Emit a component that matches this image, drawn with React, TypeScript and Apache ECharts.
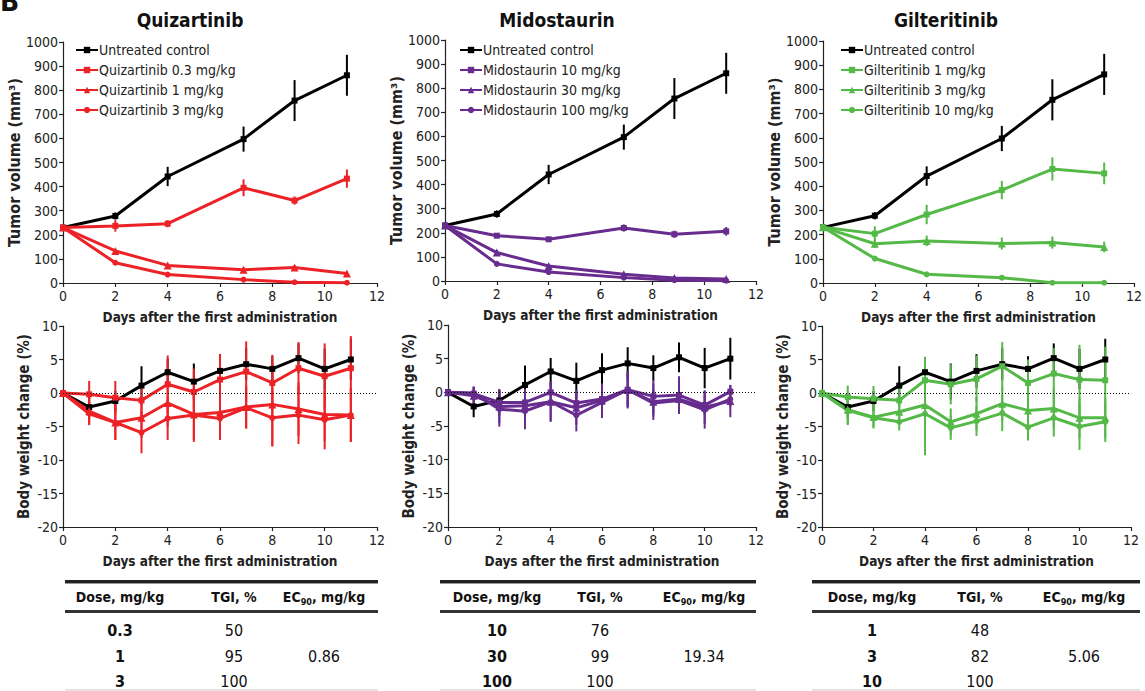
import React, { useEffect, useRef } from "react";
import * as echarts from "echarts";

const FONT = "'Liberation Sans Narrow', 'DejaVu Sans Condensed', 'Arial Narrow', sans-serif";

// ---------- data ----------
const tumorDays = [0, 2, 4, 6.9, 8.85, 10.85];
const weightDays = [0, 1, 2, 3, 4, 5, 6, 7, 8, 9, 10, 11];

const tumorControl = [230, 278, 442, 597, 757, 862];
const tumorControlErr = [8, 15, 40, 52, 85, 85];

const tumorQuiz03 = [230, 237, 246, 395, 342, 433];
const tumorQuiz03Err = [8, 24, 15, 35, 17, 38];
const tumorQuiz1 = [230, 133, 73, 55, 64, 39];
const tumorQuiz1Err = [5, 8, 8, 10, 10, 8];
const tumorQuiz3 = [230, 84, 35, 14, 3, 1];
const tumorQuiz3Err = [5, 8, 6, 4, 2, 1];

const tumorMido10 = [230, 188, 173, 220, 194, 206];
const tumorMido10Err = [8, 10, 10, 15, 15, 18];
const tumorMido30 = [230, 118, 62, 28, 12, 8];
const tumorMido30Err = [5, 10, 8, 6, 5, 4];
const tumorMido100 = [230, 71, 37, 14, 3, 1];
const tumorMido100Err = [5, 6, 5, 4, 2, 1];

const tumorGilt1 = [230, 204, 283, 384, 471, 453];
const tumorGilt1Err = [8, 30, 40, 38, 48, 45];
const tumorGilt3 = [230, 162, 174, 163, 167, 149];
const tumorGilt3Err = [5, 18, 22, 25, 25, 22];
const tumorGilt10 = [230, 101, 36, 22, 1, 1];
const tumorGilt10Err = [5, 8, 5, 4, 1, 1];

const weightControl = [0, -2.1, -1.2, 1.1, 3.1, 1.7, 3.3, 4.3, 3.6, 5.2, 3.6, 5.0];
const weightControlErr = [0, 1.6, 1.5, 2.9, 2.0, 2.7, 2.5, 2.4, 1.9, 2.2, 3.0, 3.1];

const weightQuiz03 = [0, -0.2, -0.7, -1.1, 1.3, 0.15, 2.0, 3.2, 1.5, 3.7, 2.5, 3.7];
const weightQuiz03Err = [0, 2.0, 2.5, 2.5, 4.3, 3.5, 3.8, 4.5, 4.2, 3.9, 4.9, 4.8];
const weightQuiz1 = [0, -2.7, -4.4, -3.7, -1.5, -3.2, -2.9, -2.1, -1.7, -2.4, -3.2, -3.3];
const weightQuiz1Err = [0, 2.0, 2.6, 3.0, 3.5, 3.8, 3.5, 3.2, 6.2, 4.0, 4.0, 4.0];
const weightQuiz3 = [0, -3.1, -4.4, -5.9, -3.8, -3.3, -3.8, -2.2, -3.7, -3.3, -4.0, -3.3];
const weightQuiz3Err = [0, 1.7, 2.6, 3.1, 3.2, 4.0, 3.2, 3.1, 4.3, 4.3, 4.4, 4.0];

const weightMido10 = [0, -0.2, -1.5, -1.5, 0, -1.6, -1.0, 0.4, -0.6, -0.4, -1.9, 0.1];
const weightMido10Err = [0, 1.0, 2.0, 2.0, 1.5, 2.0, 1.5, 2.6, 2.5, 2.8, 1.5, 1.0];
const weightMido30 = [0, -0.5, -2.1, -2.0, -1.4, -2.3, -1.2, 0.35, -1.4, -1.0, -2.2, -1.3];
const weightMido30Err = [0, 1.2, 2.5, 2.5, 2.8, 2.5, 2.5, 2.5, 2.7, 2.0, 2.5, 2.4];
const weightMido100 = [0, -0.1, -2.5, -2.8, -1.4, -3.4, -1.5, 0.4, -1.6, -1.2, -2.6, -1.0];
const weightMido100Err = [0, 1.0, 2.6, 2.7, 3.0, 2.4, 2.3, 2.8, 2.0, 2.0, 2.8, 1.2];

const weightGilt1 = [0, -0.6, -0.85, -1.1, 1.9, 1.3, 2.1, 4.0, 1.5, 2.9, 2.0, 1.9];
const weightGilt1Err = [0, 1.7, 1.9, 2.0, 3.5, 3.0, 3.5, 3.6, 3.5, 3.8, 5.2, 5.0];
const weightGilt3 = [0, -2.5, -3.6, -2.8, -1.8, -4.3, -3.1, -1.6, -2.6, -2.3, -3.7, -3.7];
const weightGilt3Err = [0, 2.2, 1.5, 1.5, 3.0, 2.0, 2.5, 2.5, 2.5, 3.0, 3.0, 3.0];
const weightGilt10 = [0, -2.6, -3.7, -4.3, -3.1, -5.2, -4.2, -3.0, -5.1, -3.7, -5.0, -4.3];
const weightGilt10Err = [0, 2.2, 1.6, 1.3, 6.2, 1.8, 2.2, 2.7, 2.0, 2.8, 3.5, 3.0];

const drugTitles = ["Quizartinib", "Midostaurin", "Gilteritinib"];
const controlName = "Untreated control";
const quizNames = ["Quizartinib 0.3 mg/kg", "Quizartinib 1 mg/kg", "Quizartinib 3 mg/kg"];
const midoNames = ["Midostaurin 10 mg/kg", "Midostaurin 30 mg/kg", "Midostaurin 100 mg/kg"];
const giltNames = ["Gilteritinib 1 mg/kg", "Gilteritinib 3 mg/kg", "Gilteritinib 10 mg/kg"];

const tableHeaders = ["Dose, mg/kg", "TGI, %", "EC90, mg/kg"];
const quizDose = ["0.3", "1", "3"];
const quizTGI = ["50", "95", "100"];
const quizEC90 = ["", "0.86", ""];
const midoDose = ["10", "30", "100"];
const midoTGI = ["76", "99", "100"];
const midoEC90 = ["", "19.34", ""];
const giltDose = ["1", "3", "10"];
const giltTGI = ["48", "82", "100"];
const giltEC90 = ["", "5.06", ""];

const xTicks = [0, 12, 2]; // min, max, interval
const tumorTicks = [0, 1000, 100];
const weightTicks = [-20, 10, 5];

// ---------- styling / layout ----------
const RED = "#ec2227";
const PURPLE = "#672c8e";
const GREEN = "#55b948";
const BLACK = "#000000";
const SYMBOLS = ["rect", "triangle", "circle"];

const grids = [
  { left: 63, top: 42, width: 314, height: 241 },
  { left: 445, top: 40, width: 311, height: 241 },
  { left: 823, top: 41, width: 314, height: 242 },
  { left: 63, top: 326, width: 314, height: 201 },
  { left: 448, top: 325, width: 308, height: 202 },
  { left: 822, top: 326, width: 309, height: 201 },
];

const titleX = [190, 557, 946];
const legendLeft = [75, 459, 840];
const tableRange = [
  [65, 378],
  [440, 756],
  [812, 1140],
];
const tableCols = [
  [120, 234, 324],
  [497, 600, 704],
  [872, 980, 1084],
];

function zip(xs: number[], ys: number[]) {
  return xs.map((x, i) => [x, ys[i]]);
}
function errData(xs: number[], ys: number[], es: number[]) {
  return xs.map((x, i) => [x, ys[i] - es[i], ys[i] + es[i]]);
}

function lineSeries(name: string, xs: number[], ys: number[], color: string, symbol: string, axis: number, extra: any = {}) {
  return {
    type: "line",
    name,
    xAxisIndex: axis,
    yAxisIndex: axis,
    data: zip(xs, ys),
    symbol,
    symbolSize: symbol === "triangle" ? 8 : 6,
    showSymbol: true,
    lineStyle: { color, width: 3 },
    itemStyle: { color },
    z: 3,
    ...extra,
  };
}

function errSeries(xs: number[], ys: number[], es: number[], color: string, axis: number) {
  return {
    type: "custom",
    xAxisIndex: axis,
    yAxisIndex: axis,
    data: errData(xs, ys, es),
    encode: { x: 0, y: [1, 2] },
    z: 2,
    silent: true,
    renderItem: (params: any, api: any) => {
      const x = api.value(0);
      const p1 = api.coord([x, api.value(1)]);
      const p2 = api.coord([x, api.value(2)]);
      return {
        type: "line",
        shape: { x1: p1[0], y1: p1[1], x2: p2[0], y2: p2[1] },
        style: { stroke: color, lineWidth: 2 },
      };
    },
  };
}

function buildOption() {
  const series: any[] = [];
  const panels = [
    {
      color: RED,
      names: quizNames,
      tumor: [tumorQuiz03, tumorQuiz1, tumorQuiz3],
      tumorErr: [tumorQuiz03Err, tumorQuiz1Err, tumorQuiz3Err],
      weight: [weightQuiz03, weightQuiz1, weightQuiz3],
      weightErr: [weightQuiz03Err, weightQuiz1Err, weightQuiz3Err],
    },
    {
      color: PURPLE,
      names: midoNames,
      tumor: [tumorMido10, tumorMido30, tumorMido100],
      tumorErr: [tumorMido10Err, tumorMido30Err, tumorMido100Err],
      weight: [weightMido10, weightMido30, weightMido100],
      weightErr: [weightMido10Err, weightMido30Err, weightMido100Err],
    },
    {
      color: GREEN,
      names: giltNames,
      tumor: [tumorGilt1, tumorGilt3, tumorGilt10],
      tumorErr: [tumorGilt1Err, tumorGilt3Err, tumorGilt10Err],
      weight: [weightGilt1, weightGilt3, weightGilt10],
      weightErr: [weightGilt1Err, weightGilt3Err, weightGilt10Err],
    },
  ];

  panels.forEach((p, pi) => {
    const top = pi;
    const bot = pi + 3;
    series.push(errSeries(tumorDays, tumorControl, tumorControlErr, BLACK, top));
    series.push(lineSeries(controlName, tumorDays, tumorControl, BLACK, "rect", top));
    series.push(errSeries(weightDays, weightControl, weightControlErr, BLACK, bot));
    series.push(
      lineSeries(controlName, weightDays, weightControl, BLACK, "rect", bot, {
        markLine: {
          silent: true,
          symbol: "none",
          label: { show: false },
          lineStyle: { type: [1, 2], color: "#000", width: 1 },
          data: [{ yAxis: 0 }],
        },
      })
    );
    for (let k = 0; k < 3; k++) {
      series.push(errSeries(tumorDays, p.tumor[k], p.tumorErr[k], p.color, top));
      series.push(lineSeries(p.names[k], tumorDays, p.tumor[k], p.color, SYMBOLS[k], top));
    }
    for (let k = 0; k < 3; k++) {
      series.push(errSeries(weightDays, p.weight[k], p.weightErr[k], p.color, bot));
      series.push(lineSeries(p.names[k], weightDays, p.weight[k], p.color, SYMBOLS[k], bot));
    }
  });

  const axisCommon = {
    axisLine: { show: true, onZero: false, lineStyle: { color: "#222", width: 1.2 } },
    axisTick: { show: true, length: 4, lineStyle: { color: "#222", width: 1.2 } },
    splitLine: { show: false },
    axisLabel: { color: "#222", fontSize: 14, fontFamily: FONT, formatter: (v: number) => String(v) },
    nameLocation: "middle",
  };

  const xAxis = grids.map((_, i) => ({
    ...axisCommon,
    type: "value",
    gridIndex: i,
    min: xTicks[0],
    max: xTicks[1],
    interval: xTicks[2],
    name: "Days after the first administration",
    nameGap: 27,
    nameTextStyle: { color: "#222", fontSize: 13.5, fontWeight: "bold", fontFamily: FONT },
    axisLabel: { ...axisCommon.axisLabel, margin: 6 },
  }));
  const yAxis = grids.map((_, i) => {
    const t = i < 3 ? tumorTicks : weightTicks;
    return {
      ...axisCommon,
      type: "value",
      gridIndex: i,
      min: t[0],
      max: t[1],
      interval: t[2],
      name: i < 3 ? "Tumor volume (mm³)" : "Body weight change (%)",
      nameGap: i < 3 ? 31 : 32,
      nameTextStyle: { color: "#222", fontSize: i < 3 ? 16 : 15, fontWeight: "bold", fontFamily: FONT },
      axisLabel: { ...axisCommon.axisLabel, margin: 5 },
    };
  });

  const legendNames = [quizNames, midoNames, giltNames];
  const legend = legendNames.map((names, i) => ({
    orient: "vertical",
    left: legendLeft[i],
    top: 43,
    padding: 0,
    itemWidth: 22,
    itemHeight: 8,
    itemGap: 6,
    textStyle: { fontSize: 14, color: "#222", fontFamily: FONT, padding: [0, 0, 0, -4] },
    data: [controlName, ...names],
    selectedMode: false,
  }));

  const graphic: any[] = [];
  graphic.push({
    type: "text",
    left: 0,
    top: -13,
    style: { text: "B", font: `bold 28px ${FONT}`, fill: "#111" },
  });
  drugTitles.forEach((t, i) => {
    graphic.push({
      type: "text",
      x: titleX[i],
      y: 20,
      style: { text: t, font: `bold 19px ${FONT}`, fill: "#111", textAlign: "center", textVerticalAlign: "middle" },
    });
  });

  const tables = [
    [quizDose, quizTGI, quizEC90],
    [midoDose, midoTGI, midoEC90],
    [giltDose, giltTGI, giltEC90],
  ];
  const rowY = [630, 656, 681];
  tables.forEach((tb, ti) => {
    const [x0, x1] = tableRange[ti];
    graphic.push({ type: "rect", shape: { x: x0, y: 580, width: x1 - x0, height: 3 }, style: { fill: "#222" } });
    graphic.push({ type: "rect", shape: { x: x0, y: 583, width: x1 - x0, height: 1 }, style: { fill: "#999" } });
    graphic.push({ type: "rect", shape: { x: x0, y: 610, width: x1 - x0, height: 3 }, style: { fill: "#333" } });
    graphic.push({ type: "rect", shape: { x: x0, y: 689, width: x1 - x0, height: 2 }, style: { fill: "#e4e4e4" } });
    tableHeaders.forEach((h, ci) => {
      if (h.startsWith("EC90")) {
        graphic.push({
          type: "text",
          x: tableCols[ti][ci],
          y: 597,
          style: {
            text: "{a|EC}{s|90}{a|" + h.slice(4) + "}",
            textAlign: "center",
            textVerticalAlign: "middle",
            rich: {
              a: { font: `bold 14px ${FONT}`, fill: "#111", lineHeight: 18 },
              s: { font: `bold 9px ${FONT}`, fill: "#111", verticalAlign: "bottom", lineHeight: 12 },
            },
          },
        });
      } else {
        graphic.push({
          type: "text",
          x: tableCols[ti][ci],
          y: 597,
          style: { text: h, font: `bold 14px ${FONT}`, fill: "#111", textAlign: "center", textVerticalAlign: "middle" },
        });
      }
    });
    tb.forEach((col, ci) => {
      col.forEach((v, ri) => {
        if (!v) return;
        graphic.push({
          type: "text",
          x: tableCols[ti][ci],
          y: rowY[ri],
          style: {
            text: v,
            font: `${ci === 0 ? "bold " : ""}16px ${FONT}`,
            fill: "#111",
            textAlign: "center",
            textVerticalAlign: "middle",
          },
        });
      });
    });
  });

  return {
    animation: false,
    backgroundColor: "#ffffff",
    grid: grids,
    xAxis,
    yAxis,
    legend,
    series,
    graphic,
  };
}

export default function App() {
  const ref = useRef<HTMLDivElement>(null);
  useEffect(() => {
    if (!ref.current) return;
    const chart = echarts.init(ref.current, null, { renderer: "svg" });
    chart.setOption(buildOption() as any);
    return () => chart.dispose();
  }, []);
  return (
    <div
      ref={ref}
      style={{ position: "fixed", left: 0, top: 0, width: 1145, height: 691, background: "#fff" }}
    />
  );
}
